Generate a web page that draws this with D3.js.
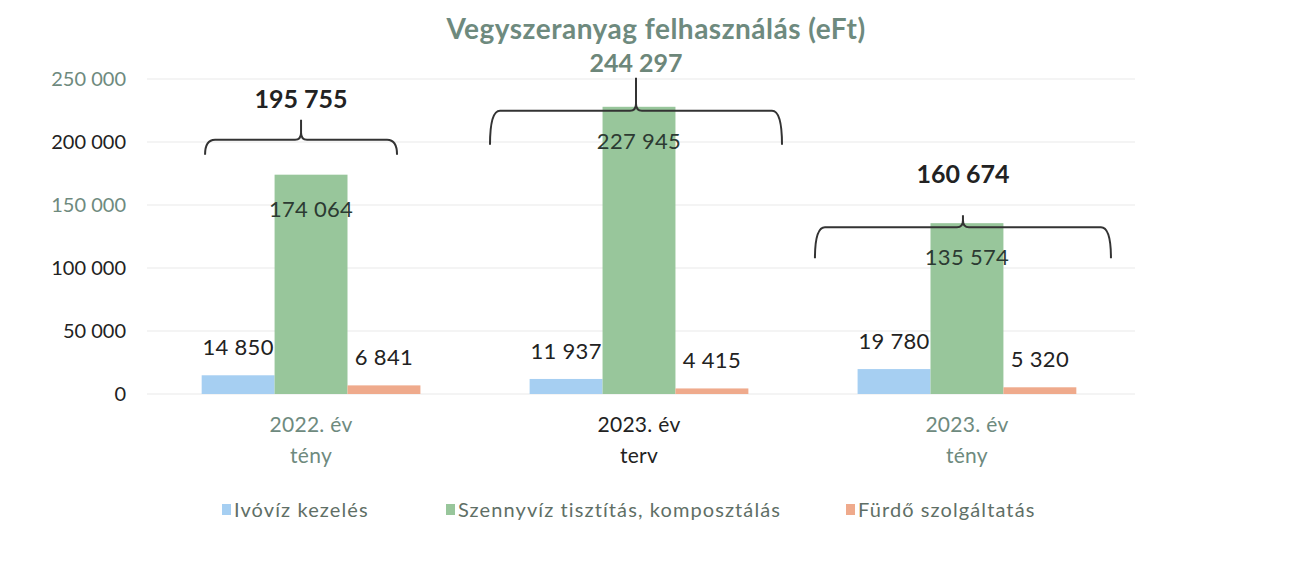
<!DOCTYPE html>
<html>
<head>
<meta charset="utf-8">
<script src="https://cdn.jsdelivr.net/npm/d3@7"></script>
<style>
  body { margin: 0; background: #fff; }
  text { font-family: Lato, "Open Sans", sans-serif; }
</style>
</head>
<body>
<script>
var categories = [['2022. év', 'tény'], ['2023. év', 'terv'], ['2023. év', 'tény']],
	series = ['Ivóvíz kezelés', 'Szennyvíz tisztítás, komposztálás', 'Fürdő szolgáltatás'],
	ivoviz = [14850, 11937, 19780],
	szennyviz = [174064, 227945, 135574],
	furdo = [6841, 4415, 5320],
	totals = [195755, 244297, 160674],
	yTicks = [0, 50000, 100000, 150000, 200000, 250000];

var colors = ['#a6cff2', '#98c69b', '#efaa8c'],
	values = [ivoviz, szennyviz, furdo];

// hand drawn braces in the original, so they get their own layout
var braces = [
	{dx: -10, hw: 96, dy: -35, drop: 15, spike: 20, gap: 32, color: '#222'},
	{dx: -3, hw: 146, dy: 4, drop: 34, spike: 33, gap: 39, color: '#6d877a'},
	{dx: -4, hw: 148, dy: 4, drop: 31, spike: 12, gap: 44, color: '#222'}
];

var W = 1313, H = 571,
	grey = '#6e8a7e', dark = '#222';

var svg = d3.select('body').append('svg').attr('width', W).attr('height', H);

var x0 = d3.scaleBand().domain(d3.range(categories.length)).range([147, 1131]).paddingInner(0.333).paddingOuter(0.1667),
	x1 = d3.scaleBand().domain(d3.range(series.length)).range([0, x0.bandwidth()]),
	y = d3.scaleLinear().domain([0, 250000]).range([394, 79]);

var fmt = d => d3.format(',')(d).replace(/,/g, ' ');

svg.append('text').attr('x', 656).attr('y', 39).attr('text-anchor', 'middle')
	.attr('font-size', 28).attr('font-weight', 'bold').attr('letter-spacing', 0.5).attr('fill', grey)
	.text('Vegyszeranyag felhasználás (eFt)');

// grid + y labels
var tickColors = [dark, dark, dark, grey, dark, grey];
svg.append('g').selectAll('line').data(yTicks).join('line')
	.attr('x1', 147).attr('x2', 1135).attr('y1', d => y(d)).attr('y2', d => y(d))
	.attr('stroke', '#f1f1f1').attr('stroke-width', 1.5);
svg.append('g').selectAll('text').data(yTicks).join('text')
	.attr('x', 126).attr('y', d => y(d)).attr('dy', '0.35em').attr('text-anchor', 'end')
	.attr('font-size', 20).attr('fill', (d, i) => tickColors[i])
	.text(fmt);

// bars
var groups = svg.append('g').selectAll('g').data(categories).join('g')
	.attr('transform', (d, i) => 'translate(' + x0(i) + ',0)');

groups.each(function(c, gi) {
	var g = d3.select(this);
	series.forEach(function(s, si) {
		var v = values[si][gi];
		g.append('rect').attr('x', x1(si)).attr('width', x1.bandwidth())
			.attr('y', y(v)).attr('height', y(0) - y(v)).attr('fill', colors[si]);
		var lbl = g.append('text').attr('x', x1(si) + x1.bandwidth() / 2).attr('text-anchor', 'middle')
			.attr('font-size', 22).attr('letter-spacing', 0.3).attr('fill', si == 1 ? '#2c3a32' : dark).text(fmt(v));
		if (si == 1) lbl.attr('y', y(v) + 42);
		else lbl.attr('y', y(v) - 20);
	});
});

// x labels
var xl = svg.append('g').selectAll('text').data(categories).join('text')
	.attr('text-anchor', 'middle').attr('font-size', 21).attr('letter-spacing', 0.3)
	.attr('fill', (d, i) => i == 1 ? dark : grey);
xl.append('tspan').attr('x', (d, i) => x0(i) + x0.bandwidth() / 2).attr('y', 432).text(d => d[0]);
xl.append('tspan').attr('x', (d, i) => x0(i) + x0.bandwidth() / 2).attr('y', 463).text(d => d[1]);

// braces and totals
totals.forEach(function(t, i) {
	var b = braces[i],
		cx = x0(i) + x0.bandwidth() / 2 + b.dx,
		ly = y(szennyviz[i]) + b.dy,
		xa = cx - b.hw, xb = cx + b.hw, r = 10;
	var p = d3.path();
	p.moveTo(xa, ly + b.drop);
	p.quadraticCurveTo(xa, ly, xa + r, ly);
	p.lineTo(cx - 6, ly);
	p.quadraticCurveTo(cx, ly, cx, ly - 7);
	p.lineTo(cx, ly - b.spike);
	p.moveTo(cx, ly - 7);
	p.quadraticCurveTo(cx, ly, cx + 6, ly);
	p.lineTo(xb - r, ly);
	p.quadraticCurveTo(xb, ly, xb, ly + b.drop);
	svg.append('path').attr('d', p.toString()).attr('fill', 'none')
		.attr('stroke', '#333').attr('stroke-width', 2);
	svg.append('text').attr('x', cx).attr('y', ly - b.gap).attr('text-anchor', 'middle')
		.attr('font-size', 25).attr('font-weight', 'bold').attr('fill', b.color).text(fmt(t));
});

// legend
var legX = [222, 446, 846];
var leg = svg.append('g').selectAll('g').data(series).join('g')
	.attr('transform', (d, i) => 'translate(' + legX[i] + ',510)');
leg.append('rect').attr('x', 0).attr('y', -6).attr('width', 9).attr('height', 11).attr('fill', (d, i) => colors[i]);
leg.append('text').attr('x', 12).attr('dy', '0.35em').attr('font-size', 20).attr('letter-spacing', 1.1)
	.attr('fill', '#5f6f66').text(d => d);
</script>
</body>
</html>
